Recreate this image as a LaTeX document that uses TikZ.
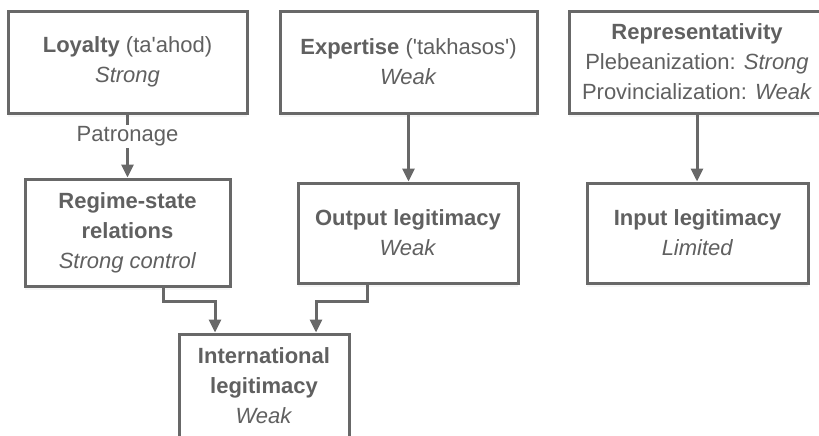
\documentclass[tikz,border=0pt]{standalone}
\usepackage{fontspec}
\setmainfont{Liberation Sans}
\usepackage{tikz}
\usetikzlibrary{arrows.meta,shadows}
\definecolor{boxgray}{RGB}{104,104,104}
\definecolor{txtgray}{RGB}{96,96,96}
\tikzstyle{box}=[draw=boxgray, line width=1.5pt, fill=white, align=center, text=txtgray, font=\fontsize{11}{15}\selectfont, drop shadow={opacity=0.08, shadow xshift=0pt, shadow yshift=-2pt}]
\tikzstyle{arr}=[draw=boxgray, line width=1.5pt, -{Triangle[length=6.5pt,width=6pt]}]

\begin{document}
\begin{tikzpicture}[x=0.5pt,y=-0.5pt]
\useasboundingbox (0,0) rectangle (819,435);
\clip (0,0) rectangle (819,435);
% top row
\node[box, minimum width=119.5pt, minimum height=51pt] (loyalty) at (127.5,62) {\textbf{Loyalty} (ta\textquotesingle ahod)\\\textit{Strong}};
\node[box, minimum width=128.5pt, minimum height=51pt] (expertise) at (408.5,62) {\textbf{Expertise} (\textquotesingle takhasos\textquotesingle)\\\textit{Weak}};
\node[box, minimum width=128pt, minimum height=51pt] (repr) at (697,62) {\textbf{Representativity}\\Plebeanization: \textit{Strong}\\Provincialization: \textit{Weak}};
% middle row
\node[box, minimum width=102.5pt, minimum height=53.5pt] (regime) at (127.5,232.5) {\textbf{Regime-state}\\\textbf{relations}\\\textit{Strong control}};
\node[box, minimum width=110pt, minimum height=50pt] (output) at (408,233) {\textbf{Output legitimacy}\\\textit{Weak}};
\node[box, minimum width=110.5pt, minimum height=50pt] (input) at (697.5,233) {\textbf{Input legitimacy}\\\textit{Limited}};
% bottom
\node[box, minimum width=85pt, minimum height=52pt] (intl) at (264,386) {\textbf{International}\\\textbf{legitimacy}\\\textit{Weak}};
\coordinate (join) at (0,301);
\coordinate (rs) at ([xshift=17.75pt]regime.south);
\coordinate (os) at ([xshift=-20.5pt]output.south);
\draw[arr] (loyalty) -- node[pos=0.35, fill=white, inner sep=1pt, text=txtgray, font=\fontsize{11}{15}\selectfont] {Patronage} (regime);
\draw[arr] (expertise.south) -- (expertise.south |- output.north);
\draw[arr] (repr.south) -- (repr.south |- input.north);
\draw[arr] (rs) -- (rs |- join) -| ([xshift=-24.5pt]intl.north);
\draw[arr] (os) -- (os |- join) -| ([xshift=26pt]intl.north);
\end{tikzpicture}
\end{document}
